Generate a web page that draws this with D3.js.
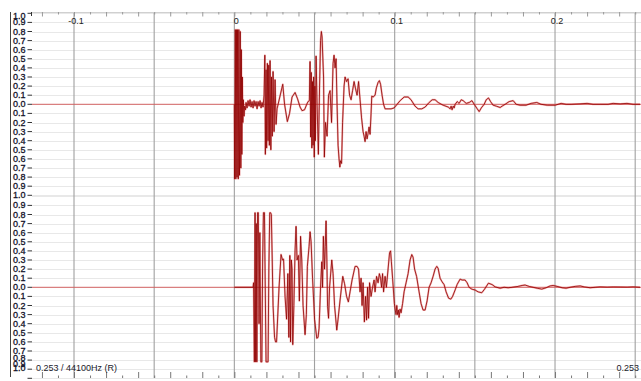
<!DOCTYPE html>
<html><head><meta charset="utf-8">
<script src="https://cdn.jsdelivr.net/npm/d3@7"></script>
<style>html,body{margin:0;padding:0;background:#fff;}svg{display:block;}</style>
</head><body>
<svg id="chart" width="641" height="381"></svg>
<script>
// Waveform trace, two channels. Times in milliseconds, amplitude in [-1, 1].
const upperTimes = [0,0.19,0.62,0.94,1.31,1.68,2.00,2.43,2.81,3.24,3.68,4.05,4.37,4.68,4.99,5.30,5.61,6.05,6.43,6.99,7.30,7.92,8.55,9.17,9.79,10.42,11.04,11.67,12.29,12.91,13.54,14.16,14.79,15.41,16.03,16.66,17.28,17.90,18.53,19.03,19.34,19.78,20.15,20.59,21.02,21.46,21.83,22.27,22.77,23.21,23.64,24.14,24.77,25.39,26.01,26.64,30.19,31.32,33.06,34.43,35.99,37.86,39.42,40.98,42.23,43.79,45.16,45.97,46.78,47.22,47.59,47.97,48.34,48.72,49.09,49.47,49.84,50.22,50.53,50.97,51.59,52.40,53.15,53.77,54.27,54.71,55.64,56.14,56.89,57.83,58.76,59.70,60.63,61.57,62.19,62.82,63.44,64.06,64.69,65.31,65.81,66.25,66.87,67.50,68.43,69.06,69.99,70.93,71.86,72.80,73.73,74.67,75.60,76.54,77.48,78.41,79.35,80.28,80.91,81.53,82.15,82.78,83.40,84.03,84.65,85.27,85.71,86.52,87.77,88.58,89.64,90.46,91.20,92.14,93.07,94.01,95.88,97.75,99.62,101.5,103.4,105.9,108.4,110.2,112.7,114.6,116.9,119.0,121.5,123.4,125.2,127.1,130.2,133.4,134.6,135.2,135.8,136.5,137.1,137.7,139.0,140.2,141.5,142.7,144.6,146.5,148.2,149.6,151.5,152.7,154.0,155.8,157.1,158.5,159.8,161.4,163.3,165.8,167.0,168.9,171.4,173.9,175.8,178.2,182.0,185.1,188.6,191.3,195.1,200.1,203.8,206.9,210.0,215.6,220.0,223.7,228.1,233.1,236.2,240.6,244.9,248.7,253.0];
const upperValues = [0,-0.82,0.82,-0.82,0.82,-0.80,0.82,-0.82,0.82,-0.78,0.80,-0.70,0.60,-0.55,0.30,-0.20,0.05,-0.13,-0.02,-0.06,0.02,-0.04,0.04,-0.02,0.05,-0.03,0.03,-0.04,0.04,-0.02,0.03,-0.05,0.03,-0.02,0.04,-0.04,0.02,-0.03,0.10,0.54,-0.55,0.38,-0.48,0.45,-0.40,0.43,-0.45,0.48,-0.50,0.30,-0.35,0.36,-0.30,0.27,-0.22,-0.05,0.22,0.0,-0.19,-0.10,0.08,0.13,0.06,-0.03,-0.07,-0.06,0.0,0.03,0.04,0.47,-0.36,0.35,-0.48,0.25,-0.45,0.30,-0.58,0.20,-0.40,0.53,0.0,-0.55,0.20,0.70,0.80,0.74,0.30,-0.58,-0.20,-0.35,0.10,0.15,-0.20,0.45,0.54,0.40,0.50,0.0,-0.45,-0.60,-0.69,-0.62,-0.65,-0.20,0.20,0.30,0.25,0.28,0.10,0.05,0.15,0.25,0.17,0.10,0.25,0.05,-0.15,-0.30,-0.35,-0.41,-0.30,-0.38,-0.32,-0.25,-0.33,-0.10,0.09,0.08,0.10,0.18,0.24,0.26,0.22,0.10,0.0,-0.05,-0.05,-0.05,-0.04,0.0,0.04,0.08,0.08,0.05,-0.02,-0.05,-0.05,-0.03,0.02,0.05,0.05,0.02,-0.01,-0.03,-0.05,-0.02,-0.06,-0.02,-0.04,0.0,0.03,0.01,0.05,0.04,0.01,0.02,0.04,0.0,-0.05,-0.08,-0.04,0.0,0.05,0.07,0.03,-0.01,-0.02,-0.035,-0.02,0.0,0.03,0.04,0.0,-0.01,-0.01,0.01,0.02,0.0,-0.01,-0.01,0.01,0.0,0.0,0.005,0.01,0.0,0.0,0.0,0.01,0.005,0.01,0.0,0.0];

const lowerTimes = [0,11.67,11.98,12.48,12.91,13.29,13.66,14.04,14.47,14.97,15.41,15.91,16.53,17.15,17.65,18.15,18.78,19.28,19.78,20.40,21.02,21.52,22.08,22.58,23.08,23.52,24.14,25.08,25.70,26.32,27.88,29.13,30.07,30.69,31.63,32.56,33.37,34.00,34.62,35.06,35.56,35.99,36.43,37.12,37.86,38.49,39.11,39.92,40.55,41.30,42.04,42.85,44.10,44.91,45.54,46.60,47.22,47.85,48.78,50.03,51.40,52.21,52.84,53.77,54.52,55.02,55.52,56.27,56.70,57.20,57.70,58.14,58.76,59.39,60.76,61.57,62.50,63.88,64.69,65.94,67.62,68.74,69.99,71.11,72.17,73.42,75.29,76.54,77.48,78.41,79.04,79.66,80.28,81.09,81.84,82.47,83.09,83.71,84.34,85.27,86.21,87.15,87.77,88.70,89.64,90.45,91.20,91.82,92.45,93.07,94.01,94.82,95.88,96.81,97.44,97.94,98.69,99.81,100.37,100.87,101.31,101.81,102.30,102.74,103.36,103.99,104.92,105.86,107.11,108.36,109.60,110.67,111.48,112.41,113.66,115.22,116.46,117.71,118.96,120.21,121.46,122.70,123.95,125.20,126.26,127.07,128.32,129.57,130.82,132.07,133.63,135.00,136.12,137.68,138.93,140.80,142.05,143.92,145.17,146.42,148.10,150.15,152.03,154.33,156.08,158.45,160.76,162.63,165.75,168.24,170.74,173.23,176.98,179.47,181.34,183.84,186.33,188.83,191.76,194.44,196.94,198.81,201.30,204.42,206.92,209.41,212.53,215.65,218.15,221.89,225.01,228.13,232.49,236.24,240.60,244.97,248.71,253.0];
const lowerValues = [0,0,0.05,-0.82,0.82,-0.82,0.70,-0.82,0.82,0.82,-0.40,0.60,-0.82,-0.82,0.30,0.82,0.82,0.0,-0.82,-0.82,-0.82,0.20,0.82,0.82,0.80,0.40,-0.20,-0.55,-0.60,-0.60,0.0,0.36,0.30,0.31,-0.10,-0.35,0.15,-0.55,0.35,-0.60,0.30,0.20,-0.63,-0.20,0.40,0.67,0.30,0.35,-0.15,0.56,0.30,-0.20,-0.52,-0.30,0.23,0.45,0.61,0.50,0.10,-0.35,-0.56,-0.55,-0.45,0.0,0.28,0.0,0.56,0.20,0.45,0.73,0.30,-0.21,-0.34,0.0,0.30,0.15,-0.20,-0.47,-0.35,-0.14,0.12,0.04,-0.10,-0.16,-0.05,0.08,0.23,0.23,0.20,-0.05,0.10,-0.20,0.05,-0.38,-0.10,-0.36,0.0,-0.34,0.05,-0.10,0.0,0.08,-0.05,0.12,0.05,0.15,0.10,0.0,0.15,-0.05,0.12,0.0,0.20,0.38,0.40,0.28,0.10,-0.18,-0.25,-0.30,-0.20,-0.30,-0.25,-0.33,-0.24,-0.28,-0.18,-0.05,0.05,0.15,0.30,0.36,0.33,0.20,0.12,-0.05,-0.18,-0.25,-0.25,-0.15,0.0,0.05,0.12,0.20,0.23,0.21,0.10,0.06,0.03,-0.05,-0.12,-0.13,-0.10,-0.03,0.03,0.09,0.08,0.08,0.05,0.0,-0.02,-0.03,-0.05,-0.06,-0.02,0.045,0.03,0.005,-0.01,0.0,-0.005,0.0,0.01,0.02,0.025,0.01,0.0,-0.01,-0.02,-0.005,0.015,0.02,0.01,-0.005,-0.01,0.0,0.01,0.015,0.005,-0.005,0.0,0.005,0.002,0.004,0.003,0.002,0.005,0.0];

// Axis labels
const ampLevels = [1.0,0.9,0.8,0.7,0.6,0.5,0.4,0.3,0.2,0.1,0.0,-0.1,-0.2,-0.3,-0.4,-0.5,-0.6,-0.7,-0.8,-0.9,-1.0];
const timeLabels = [-0.1, 0, 0.1, 0.2];
const gridTimes = [-0.1, -0.05, 0, 0.05, 0.1, 0.15, 0.2, 0.25];
const startTime = -0.1262;
const endTime = 0.253;
const sampleRate = 44100;
const channelName = "(R)";

const svg = d3.select("#chart");
const W = 641, H = 381;
const plotLeft = 32, plotTop = 12, plotBottom = 378;
const font = "'Liberation Sans', Arial, sans-serif";

const x = d3.scaleLinear().domain([startTime, endTime]).range([plotLeft, 640]);
const yUpper = d3.scaleLinear().domain([-1, 1]).range([195.3, 13.3]);
const yLower = d3.scaleLinear().domain([-1, 1]).range([378.3, 196.3]);

// horizontal guides every 0.1
const guides = svg.append("g");
[yUpper, yLower].forEach(y => {
  guides.selectAll(null).data(ampLevels.filter(v => v !== 0)).enter().append("line")
    .attr("x1", plotLeft).attr("x2", W)
    .attr("y1", d => Math.round(y(d)) + 0.5).attr("y2", d => Math.round(y(d)) + 0.5)
    .attr("stroke", "#e8e8e8").attr("stroke-width", 1);
});

// vertical grid lines
svg.append("g").selectAll("line").data(gridTimes).enter().append("line")
  .attr("x1", d => x(d)).attr("x2", d => x(d))
  .attr("y1", plotTop).attr("y2", plotBottom)
  .attr("stroke", "#a0a0a0").attr("stroke-width", 1.1);

// zero lines
[yUpper, yLower].forEach(y => {
  svg.append("line").attr("x1", plotLeft).attr("x2", W)
    .attr("y1", y(0)).attr("y2", y(0))
    .attr("stroke", "#d06060").attr("stroke-width", 1);
});

// waveforms: soft red halo under a thin dark red trace
function drawChannel(times, values, y) {
  const pts = times.map((t, i) => [t / 1000, values[i]]);
  const line = d3.line().x(d => x(d[0])).y(d => y(d[1]));
  const g = svg.append("g");
  g.append("path").attr("d", line(pts)).attr("fill", "none")
    .attr("stroke", "#e03c3c").attr("stroke-opacity", 0.4).attr("stroke-width", 1.9)
    .attr("stroke-linejoin", "round");
  g.append("path").attr("d", line(pts)).attr("fill", "none")
    .attr("stroke", "#8e0000").attr("stroke-width", 0.8)
    .attr("stroke-linejoin", "round");
}
drawChannel(upperTimes, upperValues, yUpper);
drawChannel(lowerTimes, lowerValues, yLower);

// time ticks: every 10 ms, longer on even hundredths
const hundredths = d3.range(-12, 26).map(i => i / 100);
const isLong = d => Math.round(d * 100) % 2 === 0;

const topAxis = svg.append("g").attr("transform", `translate(0,${plotTop})`)
  .call(d3.axisBottom(x).tickValues(hundredths).tickSizeOuter(0).tickFormat(""));
topAxis.select(".domain").attr("stroke", "#d0d0d0").attr("d", `M${plotLeft},0.5H${W}`);
topAxis.selectAll(".tick line").attr("stroke", "#999").attr("y2", d => isLong(d) ? 4.5 : 2.5);

const topLabels = svg.append("g").attr("transform", `translate(1.5,${plotTop})`)
  .call(d3.axisBottom(x).tickValues(timeLabels).tickSize(0).tickPadding(6)
    .tickFormat(d => d === 0 ? "0" : String(d)));
topLabels.select(".domain").remove();
topLabels.selectAll("text").attr("font-family", font).attr("font-size", 9).attr("fill", "#222");

const bottomAxis = svg.append("g").attr("transform", `translate(0,${plotBottom})`)
  .call(d3.axisTop(x).tickValues(hundredths).tickSizeOuter(0).tickFormat(""));
bottomAxis.select(".domain").remove();
bottomAxis.selectAll(".tick line").attr("stroke", "#777").attr("y2", d => isLong(d) ? -6 : -2.5);

// amplitude axes; labels close to the frame edges are squeezed inside it
function ampAxis(y, levels, labelPos) {
  const g = svg.append("g").attr("transform", `translate(${plotLeft},0)`)
    .call(d3.axisLeft(y).tickValues(levels).tickSize(4.5).tickPadding(2)
      .tickFormat(d => Math.abs(d).toFixed(1)));
  g.select(".domain").remove();
  g.selectAll(".tick line").attr("stroke", "#333");
  g.selectAll("text").attr("font-family", font).attr("font-size", 9).attr("fill", "#14142a")
    .attr("stroke", "#14142a").attr("stroke-width", 0.3)
    .attr("dy", null).attr("dominant-baseline", "central");
  g.selectAll(".tick").attr("transform", d => `translate(0,${labelPos(y(d))})`);
  g.selectAll(".tick line").attr("transform", d => `translate(0,${y(d) - labelPos(y(d))})`);
  return g;
}
ampAxis(yUpper, ampLevels, p => Math.max(16, p));
ampAxis(yLower, ampLevels.filter(v => v !== 1),
  p => Math.min(368, p > 350 ? 350 + (p - 350) * 0.75 : p));

// frame line left of the labels
svg.append("line").attr("x1", 10.5).attr("x2", 10.5).attr("y1", plotTop).attr("y2", 377)
  .attr("stroke", "#444").attr("stroke-width", 1);
svg.append("line").attr("x1", plotLeft - 0.5).attr("x2", plotLeft - 0.5).attr("y1", plotTop).attr("y2", plotTop + 4)
  .attr("stroke", "#333");

// footer text
svg.append("text").attr("x", 36).attr("y", 370.5)
  .attr("font-family", font).attr("font-size", 9).attr("fill", "#1a1a2a")
  .text(`${endTime} / ${sampleRate}Hz ${channelName}`);
svg.append("text").attr("x", 639).attr("y", 371).attr("text-anchor", "end")
  .attr("font-family", font).attr("font-size", 9).attr("fill", "#1a1a2a")
  .text(String(endTime));
</script>
</body></html>
